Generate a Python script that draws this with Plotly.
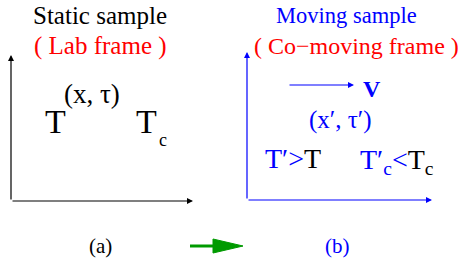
import plotly.graph_objects as go

W, H = 468, 263
FONT = "Liberation Serif"
BLUE = "#0000ff"
RED = "#ff0000"
BLACK = "#000000"
GREEN = "#009a00"

# texts: (x, y, html, size, color, xanchor)
texts = [
    (100, 16, "Static sample", 25, BLACK, "center"),
    (100, 46, "( Lab frame )", 25, RED, "center"),
    (92, 94, "(x, τ)", 27, BLACK, "center"),
    (55, 121, "T", 34, BLACK, "center"),
    (146, 121, "T", 34, BLACK, "center"),
    (163, 140, "c", 18, BLACK, "center"),
    (346, 16, "Moving sample", 22.5, BLUE, "center"),
    (252, 46, "( Co−moving frame )", 24, RED, "left"),
    (372, 89, "<b>V</b>", 24, BLUE, "center"),
    (340, 120, "(x′, τ′)", 25, BLUE, "center"),
    (293, 158, "T′&gt;<span style='color:#000000'>T</span>", 28, BLUE, "center"),
    (397, 161, "T′<sub>c</sub>&lt;<span style='color:#000000'>T<sub>c</sub></span>", 28, BLUE, "center"),
    (100, 246, "(a)", 21, BLACK, "center"),
    (337, 246, "(b)", 21, BLUE, "center"),
]

# arrows: (x0, y0, x1, y1, color, width)
arrows = [
    (11, 201, 11, 55, BLACK, 1.2),
    (11, 201, 193, 201, BLACK, 1.2),
    (247, 200, 247, 52, BLUE, 1.2),
    (247, 200, 432, 200, BLUE, 1.2),
    (288, 85, 354, 85, BLUE, 1.2),
]

green_shaft = (190, 246, 215, 246)
green_head = [(213, 239), (243, 246), (213, 253)]

fig = go.Figure()

for x, y, t, s, c, xa in texts:
    fig.add_annotation(x=x / W, y=1 - y / H, xref="paper", yref="paper", text=t, showarrow=False,
                       font=dict(family=FONT, size=s, color=c), xanchor=xa, yanchor="middle")

for x0, y0, x1, y1, c, w in arrows:
    fig.add_annotation(x=x1, y=y1, ax=x0, ay=y0, xref="x", yref="y", axref="x", ayref="y",
                       text="", showarrow=True, arrowhead=2, arrowsize=1, arrowwidth=w,
                       arrowcolor=c, standoff=0, startstandoff=0)

x0, y0, x1, y1 = green_shaft
fig.add_shape(type="line", x0=x0, y0=y0, x1=x1, y1=y1, xref="x", yref="y",
              line=dict(color=GREEN, width=3))
path = "M " + " L ".join(f"{px},{py}" for px, py in green_head) + " Z"
fig.add_shape(type="path", path=path, xref="x", yref="y", fillcolor=GREEN,
              line=dict(color=GREEN, width=1))

fig.update_layout(
    width=W, height=H, margin=dict(l=0, r=0, t=0, b=0),
    paper_bgcolor="white", plot_bgcolor="white",
    xaxis=dict(range=[0, W], visible=False, fixedrange=True),
    yaxis=dict(range=[H, 0], visible=False, fixedrange=True),
    showlegend=False,
)
fig.write_html("out.html", config={"displayModeBar": False},
               post_script="document.body.style.margin='0';document.body.style.padding='0';")
